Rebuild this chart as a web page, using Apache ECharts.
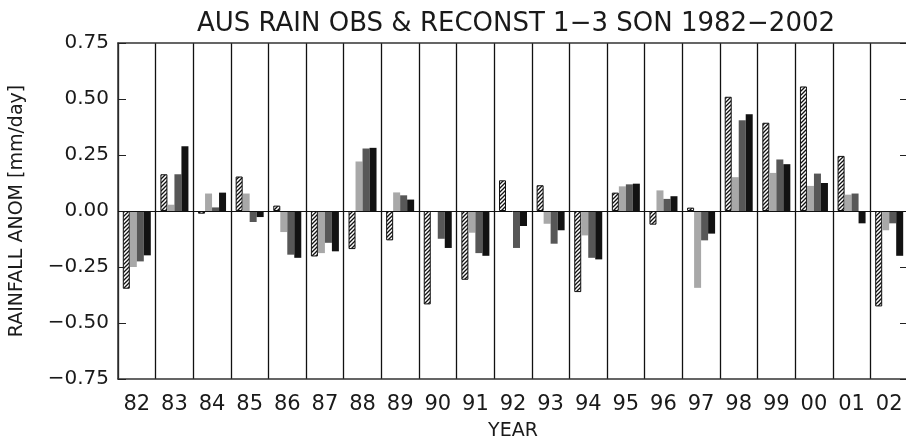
<!DOCTYPE html>
<html>
<head>
<meta charset="utf-8">
<script src="https://cdn.jsdelivr.net/npm/echarts@6/dist/echarts.min.js"></script>
<style>
  html, body { margin: 0; padding: 0; background: #fff; }
  #chart { width: 906px; height: 441px; }
</style>
</head>
<body>
<div id="chart"></div>
<script>
// years shown on the x axis
const years = ['82', '83', '84', '85', '86', '87', '88', '89', '90', '91', '92',
  '93', '94', '95', '96', '97', '98', '99', '00', '01', '02']

// observed rainfall anomaly (hatched bars)
const obs = [-0.347, 0.164, -0.012, 0.154, 0.024, -0.203, -0.17, -0.131, -0.417, -0.307, 0.137,
  0.115, -0.362, 0.082, -0.061, 0.015, 0.51, 0.394, 0.556, 0.246, -0.426]
// reconstructions 1-3
const recon1 = [-0.25, 0.028, 0.078, 0.078, -0.094, -0.188, 0.221, 0.083, 0.0, -0.097, 0.0,
  -0.057, -0.109, 0.11, 0.092, -0.343, 0.151, 0.17, 0.112, 0.073, -0.086]
const recon2 = [-0.225, 0.164, 0.016, -0.049, -0.195, -0.142, 0.279, 0.07, -0.124, -0.188, -0.165,
  -0.146, -0.209, 0.119, 0.054, -0.131, 0.405, 0.23, 0.167, 0.078, -0.055]
const recon3 = [-0.198, 0.289, 0.082, -0.027, -0.209, -0.18, 0.282, 0.051, -0.165, -0.2, -0.067,
  -0.086, -0.216, 0.122, 0.066, -0.101, 0.432, 0.209, 0.125, -0.055, -0.2]

const font = 'DejaVu Sans'

// hatch pattern for the observed bars
const hatch = document.createElement('canvas')
hatch.width = 4
hatch.height = 4
const ctx = hatch.getContext('2d')
ctx.fillStyle = '#fff'
ctx.fillRect(0, 0, 4, 4)
ctx.strokeStyle = '#111'
ctx.lineWidth = 1.3
ctx.beginPath()
ctx.moveTo(0, 4); ctx.lineTo(4, 0)
ctx.moveTo(-1, 1); ctx.lineTo(1, -1)
ctx.moveTo(3, 5); ctx.lineTo(5, 3)
ctx.stroke()

const chart = echarts.init(document.getElementById('chart'))

const bar = (name, data, color, border) => ({
  name,
  type: 'bar',
  data,
  barWidth: 7,
  barGap: '0%',
  xAxisIndex: 0,
  yAxisIndex: 0,
  animation: false,
  itemStyle: {
    color,
    borderColor: border ? '#111' : null,
    borderWidth: border ? 1 : 0
  }
})

const series = [
  bar('OBS', obs, { image: hatch, repeat: 'repeat' }, true),
  bar('RECONST 1', recon1, '#a8a8a8', false),
  bar('RECONST 2', recon2, '#575757', false),
  bar('RECONST 3', recon3, '#121212', false)
]
// zero line
series[0].markLine = {
  silent: true,
  symbol: 'none',
  label: { show: false },
  lineStyle: { color: '#111', width: 1, type: 'solid' },
  data: [{ yAxis: 0 }]
}

chart.setOption({
  backgroundColor: '#fff',
  animation: false,
  title: {
    text: 'AUS RAIN OBS & RECONST 1\u22123 SON 1982\u22122002',
    left: 511,
    top: 6,
    textAlign: 'center',
    textStyle: { fontFamily: font, fontSize: 26, fontWeight: 'normal', color: '#1a1a1a' }
  },
  grid: { left: 118, right: -2, top: 43, bottom: 62, outerBoundsMode: 'none', containLabel: false },
  xAxis: [
    {
      type: 'category',
      data: years,
      position: 'bottom',
      name: 'YEAR',
      nameLocation: 'middle',
      nameGap: 43,
      nameTextStyle: { fontFamily: font, fontSize: 19, color: '#1a1a1a' },
      axisLine: { onZero: false, lineStyle: { color: '#333', width: 1.5 } },
      axisTick: { show: false },
      axisLabel: { fontFamily: font, fontSize: 21, color: '#1a1a1a', margin: 15, interval: 0 },
      splitLine: { show: true, interval: 0, lineStyle: { color: '#111', width: 1.3 } }
    },
    {
      type: 'category',
      data: years,
      position: 'top',
      axisLine: { onZero: false, lineStyle: { color: '#333', width: 1.5 } },
      axisTick: { show: false },
      axisLabel: { show: false }
    }
  ],
  yAxis: [
    {
      type: 'value',
      min: -0.75,
      max: 0.75,
      interval: 0.25,
      name: 'RAINFALL ANOM [mm/day]',
      nameLocation: 'middle',
      nameRotate: 90,
      nameGap: 91,
      nameTextStyle: { fontFamily: font, fontSize: 19, color: '#1a1a1a' },
      axisLine: { show: true, lineStyle: { color: '#333', width: 1.5 } },
      axisTick: { show: true, inside: true, length: 8, lineStyle: { color: '#222' } },
      axisLabel: {
        fontFamily: font, fontSize: 20, color: '#1a1a1a', margin: 9,
        formatter: v => v.toFixed(2).replace('-', '\u2212')
      },
      splitLine: { show: false }
    },
    {
      type: 'value',
      min: -0.75,
      max: 0.75,
      interval: 0.25,
      position: 'right',
      axisLine: { show: true, lineStyle: { color: '#333', width: 1.5 } },
      axisTick: { show: true, inside: true, length: 8, lineStyle: { color: '#222' } },
      axisLabel: { show: false },
      splitLine: { show: false }
    }
  ],
  series
})
</script>
</body>
</html>
